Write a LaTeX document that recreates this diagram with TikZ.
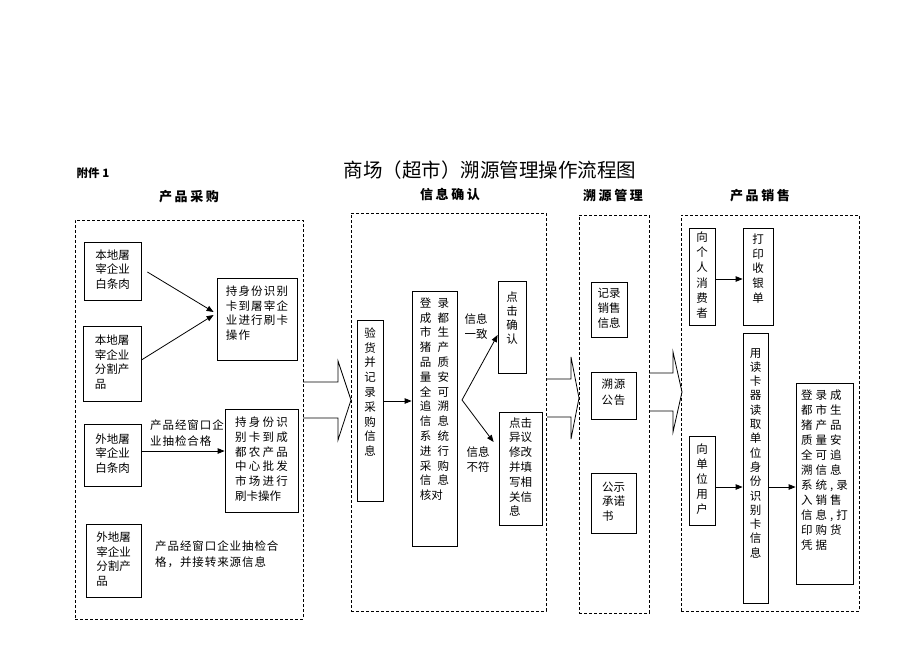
\documentclass[tikz,border=0pt]{standalone}
\usepackage{fontspec}
\setmainfont{Noto Sans CJK SC}
\usetikzlibrary{arrows.meta}
\newcommand\BX[5]{\parbox[c][#2pt][#3]{#1pt}{\centering\vspace*{#4pt}#5}}
\newcommand\TL[1]{\begin{tabular}{@{}l@{}}#1\end{tabular}}
\newcommand\TC[1]{\begin{tabular}{@{}c@{}}#1\end{tabular}}
\newcommand\LS[1]{\addfontfeature{LetterSpace=#1}}
\newcommand\bodyfont{\fontsize{11.5}{14.8}\selectfont}
\begin{document}
\begin{tikzpicture}[x=1pt,y=-1pt,
  box/.style={draw=black, line width=0.8pt, inner sep=0pt, font=\bodyfont},
  cont/.style={draw=black, line width=0.8pt, dash pattern=on 3pt off 2pt, inner sep=0pt},
  arr/.style={draw=black, line width=0.8pt, -{Triangle[length=7pt,width=5.5pt]}},
  blk/.style={draw=black, line width=0.8pt, line join=miter},
  lbl/.style={inner sep=0pt, font=\bodyfont},
  head/.style={inner sep=0pt, font=\fontsize{13}{15}\selectfont\bfseries\LS{20}}]
\fill[white] (0,0) rectangle (920,651);
\useasboundingbox (0,0) rectangle (920,651);

% titles
\node[inner sep=0pt, font=\fontsize{11.5}{13}\selectfont\bfseries] (att) at (93,173) {附件 1};
\node[inner sep=0pt, font=\fontsize{19.5}{22}\selectfont] (title) at (490,170) {商场（超市）溯源管理操作流程图};
\node[head] (h1) at (189,197) {产品采购};
\node[head] (h2) at (450,195) {信息确认};
\node[head] (h3) at (613,196) {溯源管理};
\node[head] (h4) at (760,196) {产品销售};

% containers
\node[cont, minimum width=228pt, minimum height=399pt] (C1) at (189,419.5) {};
\node[cont, minimum width=195pt, minimum height=398pt] (C2) at (448.5,412) {};
\node[cont, minimum width=70pt, minimum height=398pt] (C3) at (614,414) {};
\node[cont, minimum width=178pt, minimum height=396pt] (C4) at (770,413) {};

% block arrows
\draw[blk] (303,382) -- (338,382) -- (338,361) -- (351,400) -- (338,440) -- (338,418) -- (303,418);
\draw[blk] (547,379) -- (571,379) -- (571,357) -- (579,398) -- (571,439) -- (571,417) -- (547,417);
\draw[blk] (649,373) -- (673,373) -- (673,352) -- (682,392) -- (673,432) -- (673,411) -- (649,411);

% section 1
\node[box] (B1) at (112.5,271) {\BX{57}{58}{c}{0}{\TC{本地屠\\宰企业\\白条肉}}};
\node[box] (B2) at (112,363.5) {\BX{58}{75}{c}{0}{\TL{本地屠\\宰企业\\分割产\\品}}};
\node[box] (B3) at (257,319) {\BX{80}{82}{t}{7}{\LS{10}\TL{持身份识别\\卡到屠宰企\\业进行刷卡\\操作}}};
\node[box] (B4) at (112.5,455) {\BX{57}{62}{c}{0}{\TC{外地屠\\宰企业\\白条肉}}};
\node[box] (B5) at (261.5,460.5) {\BX{73}{103}{c}{0}{\LS{20}\TL{持身份识\\别卡到成\\都农产品\\中心批发\\市场进行\\{\LS{0}刷卡操作}}}};
\node[box] (B6) at (113.5,560.5) {\BX{55}{73}{c}{0}{\TL{外地屠\\宰企业\\分割产\\品}}};
\node[lbl, anchor=north west] (L1) at (150,418) {\fontsize{11.5}{16}\selectfont\LS{8}\TL{产品经窗口企\\业抽检合格}};
\node[lbl, anchor=north west] (L2) at (155,539) {\fontsize{11.5}{16}\selectfont\LS{8}\TL{产品经窗口企业抽检合\\格，并接转来源信息}};

\draw[arr] ([xshift=6pt,yshift=-1pt]B1.east) -- ([xshift=-3pt,yshift=7pt]B3.west);
\draw[arr] ([yshift=3.5pt]B2.east) -- ([xshift=-3pt,yshift=4pt]B3.west);
\draw[arr] ([yshift=4pt]B4.east) -- ([yshift=9.5pt]B5.west);

% section 2
\node[box] (B7) at (370,410.5) {\BX{26}{181}{t}{7}{\TC{验\\货\\并\\记\\录\\采\\购\\信\\息}}};
\node[box] (B8) at (434.5,418.5) {\BX{45}{255}{t}{6}{\LS{55}\TL{登录\\成都\\市生\\猪产\\品质\\量安\\全可\\追溯\\信息\\系统\\进行\\采购\\信息\\{\LS{0}核对}}}};
\node[box] (B9) at (512,327) {\BX{28}{92}{t}{10}{\fontsize{11.5}{14.3}\selectfont\TC{点\\击\\确\\认}}};
\node[box] (B10) at (520.5,468.5) {\BX{43}{113}{c}{0}{\TL{点击\\异议\\修改\\并填\\写相\\关信\\息}}};
\node[lbl] (L3) at (476,327.5) {\fontsize{11.5}{15}\selectfont\TL{信息\\一致}};
\node[lbl] (L4) at (478,460.5) {\fontsize{11.5}{15}\selectfont\TL{信息\\不符}};
\coordinate (br) at (462,400);
\draw[arr] ([yshift=9.5pt]B7.east) -- ([yshift=17.5pt]B8.west);
\draw[arr] (br) -- ([yshift=-8pt]B9.west);
\draw[arr] (br) -- ([xshift=-5pt,yshift=26.5pt]B10.west);

% section 3
\node[box] (B11) at (609,309.5) {\BX{36}{55}{c}{0}{\TL{记录\\销售\\信息}}};
\node[box] (B12) at (613.5,395.5) {\BX{45}{47}{t}{5}{\fontsize{11.5}{16}\selectfont\LS{5}\TL{溯源\\公告}}};
\node[box] (B13) at (613.5,503) {\BX{45}{60}{c}{0}{\TL{公示\\承诺\\书}}};

% section 4
\node[box] (B14) at (702,276.5) {\BX{26}{97}{c}{0}{\fontsize{11.5}{15.2}\selectfont\TC{向\\个\\人\\消\\费\\者}}};
\node[box] (B15) at (758,276.5) {\BX{30}{97}{t}{5}{\TC{打\\印\\收\\银\\单}}};
\node[box] (B16) at (755.5,468) {\BX{25}{270}{t}{14}{\fontsize{11.5}{14.3}\selectfont\TC{用\\读\\卡\\器\\读\\取\\单\\位\\身\\份\\识\\别\\卡\\信\\息}}};
\node[box] (B17) at (702,480.5) {\BX{26}{89}{c}{0}{\TC{向\\单\\位\\用\\户}}};
\node[box] (B18) at (824.5,483.5) {\BX{57}{201}{t}{6}{\fontsize{11.5}{15}\selectfont\LS{26}\TL{登录成\\都市生\\猪产品\\质量安\\全可追\\溯信息\\系统,录\\入销售\\信息,打\\印购货\\凭据}}};

\draw[arr] ([yshift=-2.5pt]B14.east) -- ([yshift=-2.5pt]B15.west);
\draw[arr] ([yshift=-6.5pt]B17.east) -- ([yshift=-19pt]B16.west);
\draw[arr] ([yshift=-19pt]B16.east) -- ([yshift=-3.5pt]B18.west);
\end{tikzpicture}
\end{document}
